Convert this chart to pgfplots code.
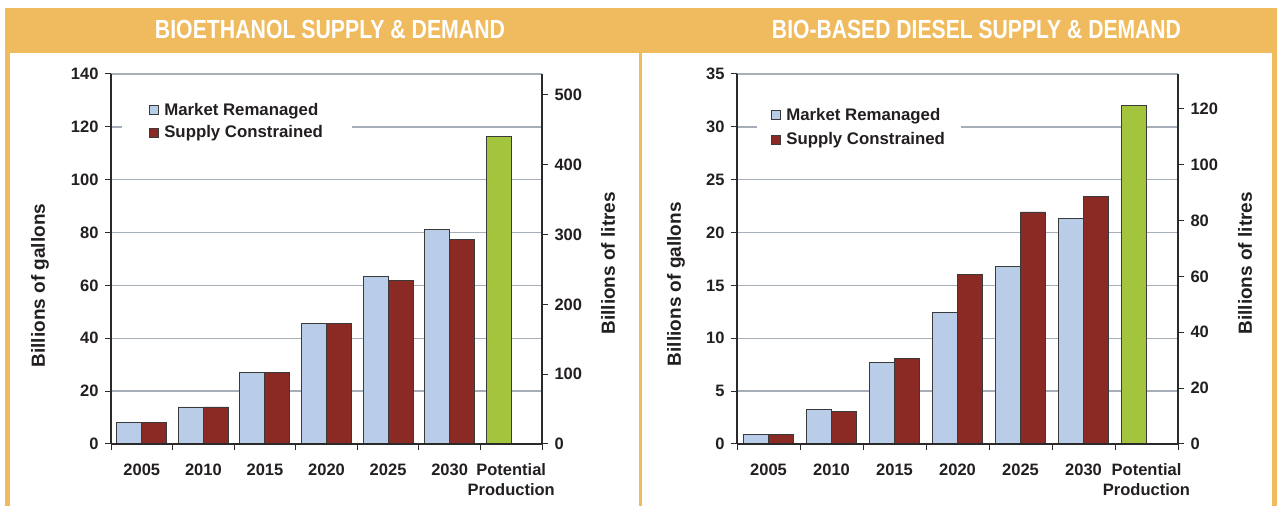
\documentclass[border=0pt]{standalone}
\usepackage{pgfplots}
\pgfplotsset{compat=1.18}
\usepackage{fontspec}
\setmainfont{Liberation Sans}
\definecolor{orng}{HTML}{F0BB5E}
\definecolor{bluec}{HTML}{B9CCE8}
\definecolor{redc}{HTML}{8B2A25}
\definecolor{greenc}{HTML}{A4C43D}
\definecolor{gridc}{HTML}{A6AEB8}
\definecolor{axc}{HTML}{2A2A2A}
\definecolor{edgec}{HTML}{3A3A3A}
\definecolor{txtc}{HTML}{231F20}
\newcommand\tickfont{\fontsize{16.5}{19.8}\selectfont\bfseries}
\newcommand\legfont{\fontsize{16.8}{20}\selectfont\bfseries}
\newcommand\labfont{\fontsize{19}{22}\selectfont\bfseries}

\pgfplotsset{
  common/.style={
    scale only axis, height=370pt,
    xmin=-0.5, xmax=6.5, ymin=0,
    axis line style={-, line width=1.2pt, color=axc},
    tick style={color=axc, line width=1pt},
    tick align=outside, major tick length=6pt,
    tick label style={font=\tickfont, color=txtc},
    /pgf/number format/assume math mode=true,
  },
  gal/.style={
    common,
    axis x line*=bottom, axis y line*=left,
    ymajorgrids, grid style={color=gridc, line width=1.3pt},
    xtick={-0.5,0.5,...,6.5},
    xticklabels={2005,2010,2015,2020,2025,2030,{Potential\\Production},{}},
    xticklabel style={align=center, anchor=north, xshift=#1, yshift=-10pt},
    yticklabel style={xshift=-3pt},
    legend cell align=left,
  },
  lit/.style={
    common,
    axis y line*=right, axis x line*=bottom, xtick=\empty,
    yticklabel style={xshift=3pt},
  },
  blueleg/.style={legend image code/.code={\draw[fill=bluec,draw=edgec,line width=0.9pt] (0pt,-4.5pt) rectangle (9pt,4.5pt);\path (12.5pt,0pt);}},
  redleg/.style={legend image code/.code={\draw[fill=redc,draw=edgec,line width=0.9pt] (0pt,-4.5pt) rectangle (9pt,4.5pt);\path (12.5pt,0pt);}},
  barstyle/.style={ybar, bar width=25pt, draw=edgec, line width=0.9pt},
}

\begin{document}
\begin{tikzpicture}
% background and frames
\fill[white] (0pt,0pt) rectangle (1282pt,506pt);
\fill[orng] (5pt,0pt) rectangle (1277pt,497.7pt);
\fill[white] (10pt,0pt) rectangle (639pt,453.3pt);
\fill[white] (642pt,0pt) rectangle (1271.7pt,453.3pt);
\node[white, inner sep=0pt] at (330pt,476.85pt) {\resizebox{350pt}{18.3pt}{\bfseries BIOETHANOL SUPPLY \& DEMAND}};
\node[white, inner sep=0pt] at (976.5pt,476.85pt) {\resizebox{409pt}{18.3pt}{\bfseries BIO-BASED DIESEL SUPPLY \& DEMAND}};

% ---------------- Left panel ----------------
\begin{axis}[gal=30.8pt, at={(111pt,62pt)}, anchor=south west, width=431pt,
  ymax=140, ytick={0,20,...,140},
  legend style={at={(rel axis cs:0.0255,0.8716)}, anchor=west, draw=none, fill=white,
    font=\legfont, text=txtc, inner xsep=26.7pt, inner ysep=3pt, row sep=4.5pt,
    nodes={inner sep=2pt}}]
\addplot[barstyle, fill=bluec, bar shift=-12.5pt, blueleg] coordinates {(0,8) (1,14) (2,27) (3,45.5) (4,63.3) (5,81)};
\addlegendentry{Market Remanaged}
\addplot[barstyle, fill=redc, bar shift=12.5pt, redleg] coordinates {(0,8) (1,14) (2,27) (3,45.5) (4,62) (5,77.3)};
\addlegendentry{Supply Constrained}
\addplot[barstyle, fill=greenc, bar shift=-12.5pt, forget plot] coordinates {(6,116.3)};
\end{axis}
\begin{axis}[lit, at={(111pt,62pt)}, anchor=south west, width=431pt,
  ymax=529.9, ytick={0,100,...,500}]
\addplot[draw=none, forget plot] coordinates {(0,0)};
\end{axis}

% ---------------- Right panel ----------------
\begin{axis}[gal=31.5pt, at={(737pt,62pt)}, anchor=south west, width=441pt,
  ymax=35, ytick={0,5,...,35},
  legend style={at={(rel axis cs:0.0454,0.8564)}, anchor=west, draw=none, fill=white,
    font=\legfont, text=txtc, inner xsep=13.7pt, inner ysep=3pt, row sep=7pt,
    nodes={inner sep=2pt}}]
\addplot[barstyle, fill=bluec, bar shift=-12.5pt, blueleg] coordinates {(0,0.9) (1,3.25) (2,7.72) (3,12.45) (4,16.75) (5,21.35)};
\addlegendentry{Market Remanaged}
\addplot[barstyle, fill=redc, bar shift=12.5pt, redleg] coordinates {(0,0.9) (1,3.1) (2,8.07) (3,16.05) (4,21.95) (5,23.45)};
\addlegendentry{Supply Constrained}
\addplot[barstyle, fill=greenc, bar shift=-12.5pt, forget plot] coordinates {(6,32.0)};
\end{axis}
\begin{axis}[lit, at={(737pt,62pt)}, anchor=south west, width=441pt,
  ymax=132.5, ytick={0,20,...,120}]
\addplot[draw=none, forget plot] coordinates {(0,0)};
\end{axis}

% axis titles
\node[rotate=90, text=txtc, inner sep=0pt] at (40pt,220.5pt) {\labfont Billions of gallons};
\node[rotate=90, text=txtc, inner sep=0pt] at (608pt,242.7pt) {\labfont Billions of litres};
\node[rotate=90, text=txtc, inner sep=0pt] at (676pt,221.8pt) {\labfont Billions of gallons};
\node[rotate=90, text=txtc, inner sep=0pt] at (1245pt,242.7pt) {\labfont Billions of litres};
\end{tikzpicture}
\end{document}
